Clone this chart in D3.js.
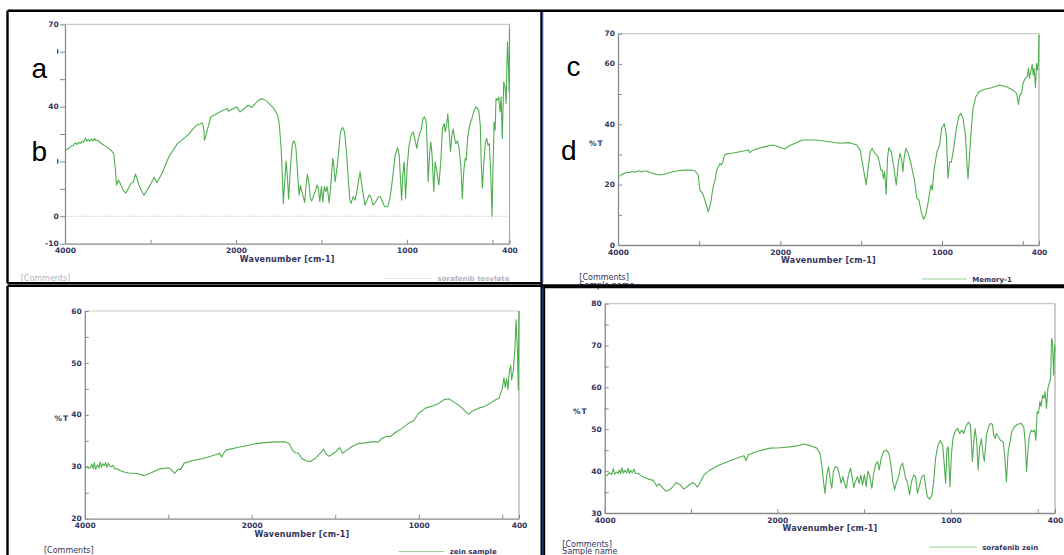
<!DOCTYPE html>
<html>
<head>
<meta charset="utf-8">
<script src="https://cdn.jsdelivr.net/npm/d3@7/dist/d3.min.js"></script>
<style>
  body { margin: 0; background: #fff; }
  svg { display: block; }
</style>
</head>
<body>
<svg id="chart" width="1064" height="555"></svg>
<script>
// ---- data (wavenumber in cm-1, transmittance in %T) ----

// a / b : sorafenib tosylate
const tosylateWn = [4000,3960,3930,3900,3880,3860,3840,3820,3800,3780,3760,3745,3730,3710,3690,3670,3655,3640,3620,3590,3550,3512,3460,3431,3410,3398,3375,3355,3320,3289,3260,3228,3200,3176,3150,3136,3100,3076,3050,3018,2985,2958,2926,2866,2785,2684,2563,2463,2390,2375,2370,2355,2342,2295,2222,2160,2129,2101,2090,
  1996,1977,1928,1908,1869,1846,1820,1791,1772,1756,1746,1736,1729,1723,1715,1707,1700,1692,1682,1670,1659,1649,1639,1631,1623,1615,1606,1598,1590,1582,1572,1565,1557,1545,1533,1526,1518,1510,1500,1492,1483,1475,1467,1455,1444,1434,1428,1420,1412,1401,1389,1377,1365,1352,1342,1334,1327,1315,1303,1293,1284,1274,1264,1252,1245,1233,1221,1209,1198,1182,1167,1155,1143,1131,1112,1098,1084,1069,1055,1045,1037,1031,1024,1016,1008,
  998,987,975,963,952,942,936,926,917,907,897,887,881,876,868,860,853,843,835,825,813,802,792,782,776,768,761,753,745,737,729,722,714,704,694,684,676,668,659,653,645,633,620,610,596,580,571,565,559,551,541,533,526,518,510,502,496,490,484,479,471,463,455,449,442,434,426,420,412,406,402,400];
const tosylateT = [24.1,24.6,25.5,25.9,26.8,26.2,27.0,26.5,27.4,27.0,28.6,27.4,28.0,27.3,28.2,27.5,28.4,27.6,27.8,26.9,26.0,25.3,24.0,22.9,17.0,11.4,13.2,12.0,9.5,8.4,10.0,12.0,12.5,15.4,13.0,11.4,9.0,7.7,9.0,10.7,12.5,14.2,12.2,15.6,21.7,26.5,29.6,33.2,34.0,31.0,27.7,29.0,30.7,36.2,37.5,38.5,38.9,39.3,38.3,
  39.9,38.0,40.5,39.7,42.3,42.9,41.9,40.2,38.7,36.8,33.2,24.7,15.0,4.7,12.6,20.1,15.0,6.2,17.4,26.5,27.5,24.7,15.0,7.8,11.3,9.0,7.1,5.1,11.4,15.3,11.4,6.5,5.6,7.8,9.6,11.4,10.2,5.3,10.8,5.3,10.8,9.0,10.8,4.9,12.6,21.1,18.7,12.6,16.2,22.3,30.8,32.4,30.8,22.3,12.6,5.9,4.7,7.1,5.9,9.0,12.6,16.2,11.4,6.5,4.1,5.9,7.8,6.8,4.1,5.3,7.1,7.1,5.3,3.5,3.5,7.1,13.8,22.3,25.0,22.3,12.6,5.9,15.0,19.9,6.5,
  18.7,26.0,29.7,30.8,27.7,24.7,27.3,30.2,31.4,35.6,36.2,34.4,24.7,12.6,22.3,27.1,22.3,9.0,19.9,16.2,11.4,19.9,32.0,33.8,30.8,33.2,37.4,30.8,23.5,29.6,31.9,28.5,26.5,27.5,24.7,17.4,6.5,16.2,21.1,20.5,28.5,33.2,35.6,38.0,39.9,38.7,33.2,18.7,10.2,18.7,27.1,28.4,25.9,26.5,16.2,0.0,18.7,34.4,31.4,42.9,42.3,43.5,38.0,43.5,28.4,48.9,47.1,41.1,63.5,55.0,45.3,68.4];

// c / d : Memory-1
const memoryWn = [4000,3950,3893,3850,3830,3800,3770,3740,3710,3680,3647,3610,3565,3483,3420,3360,3280,3196,3120,3052,3011,2991,2970,2950,2917,2888,2859,2827,2800,2785,2744,2730,2711,2691,2671,2600,2498,2420,2396,2375,2350,2293,2200,2129,2088,2047,
  1975,1944,1862,1779,1696,1634,1572,1527,1506,1490,1469,1457,1444,1432,1415,1395,1378,1370,1362,1355,1345,1337,1329,1314,1300,1283,1271,1260,1250,1242,1233,1223,1209,1190,1169,1155,1143,1128,1114,1101,1085,1068,1060,1048,1031,1015,1002,
  986,973,963,953,942,928,911,897,884,870,855,845,839,831,820,808,791,771,736,694,643,601,560,539,527,519,508,498,486,473,465,459,451,442,436,430,422,415,409,403,400];
const memoryT = [22.6,23.4,24.0,24.0,24.4,24.1,24.3,24.6,24.2,24.5,24.5,24.0,23.7,23.2,23.5,24.0,24.5,24.8,24.8,24.6,23.2,18.2,17.5,16.6,13.8,11.0,13.8,19.3,22.0,24.8,27.0,26.5,27.2,29.5,30.1,30.4,30.9,31.3,31.5,30.6,31.2,31.8,32.5,32.9,33.1,32.8,
  31.8,32.9,34.8,34.8,34.2,33.7,33.9,33.1,31.5,26.5,19.9,25.4,30.9,32.0,30.4,29.3,24.8,24.8,22.1,24.3,16.8,28.7,32.2,30.9,26.5,19.9,26.5,30.4,28.7,24.3,29.3,32.0,30.4,26.5,21.0,15.5,14.9,11.0,8.5,9.9,14.4,19.9,18.2,25.4,30.9,33.1,38.6,
  40.2,36.4,22.1,27.6,27.4,32.0,38.6,42.5,43.6,42.0,36.4,26.5,21.9,28.7,37.5,45.3,49.1,50.8,51.6,52.1,53.0,52.4,51.3,50.2,46.6,49.7,50.2,53.6,55.2,55.8,58.5,55.2,57.4,59.8,56.3,58.5,52.1,60.2,58.0,60.7,69.6];

// zein sample
const zeinWn = [4000,3970,3950,3933,3915,3900,3885,3870,3850,3830,3815,3800,3785,3767,3750,3735,3720,3700,3684,3665,3640,3610,3580,3530,3475,3371,3288,3240,3184,3100,2996,2954,2922,2900,2883,2851,2809,2705,2559,2434,2384,2359,2340,2310,2143,2080,
  2000,1940,1860,1800,1776,1756,1740,1720,1700,1670,1650,1620,1590,1570,1556,1536,1516,1496,1474,1456,1430,1400,1360,1320,1280,1240,1220,1190,1170,1140,1100,1060,1030,
  1000,960,920,880,850,820,790,750,720,700,680,640,600,570,540,520,510,500,490,482,474,466,458,450,444,434,424,418,410,404,400];
const zeinT = [29.9,30.0,29.7,29.8,30.5,29.6,30.8,29.5,30.4,29.8,30.9,29.9,30.6,30.2,30.8,29.9,30.7,30.1,30.0,30.3,29.6,29.6,29.3,29.0,28.8,28.7,28.3,28.6,29.0,29.6,29.8,29.3,28.7,29.2,29.5,29.5,30.7,31.2,31.7,32.3,32.6,31.9,32.5,33.2,33.8,34.0,
  34.3,34.6,34.8,34.8,34.5,33.2,32.7,32.6,31.6,31.1,31.0,31.6,32.6,33.4,32.5,32.0,32.5,32.9,33.7,32.6,33.2,33.9,34.5,34.6,34.8,34.8,35.5,35.9,35.8,36.6,37.4,38.4,38.9,
  40.3,41.3,41.7,42.2,42.9,43.1,42.5,41.6,40.6,40.1,40.7,41.3,41.7,42.3,42.9,43.2,44.1,45.1,47.2,45.3,47.0,44.9,48.3,49.6,46.7,48.6,53.1,58.3,53.1,44.8,60.0];

// sorafenib zein
const sorafZeinWn = [4000,3970,3950,3919,3900,3885,3860,3842,3830,3815,3800,3785,3770,3745,3730,3715,3700,3680,3660,3645,3629,3600,3571,3495,3437,3397,3380,3359,3320,3290,3243,3200,3174,3127,3081,3031,2980,2953,2927,2895,2849,2780,2664,2548,2432,2386,2363,2336,2238,2084,
  1985,1927,1869,1850,1811,1773,1754,1744,1734,1725,1715,1705,1696,1686,1677,1665,1652,1642,1632,1623,1615,1603,1590,1578,1569,1559,1550,1538,1528,1519,1509,1498,1488,1478,1469,1455,1446,1434,1422,1413,1401,1388,1372,1357,1345,1334,1324,1315,1301,1288,1278,1268,1261,1249,1238,1227,1213,1203,1192,1180,1167,1155,1145,1136,1122,1109,1099,1088,1074,1061,1047,1038,1030,1022,1015,1005,
  997,988,974,961,949,937,926,914,899,887,882,876,868,860,851,843,834,824,814,807,795,783,772,760,753,745,738,726,715,699,690,680,670,661,649,634,615,595,580,572,564,556,547,537,528,518,510,503,495,487,480,472,464,457,449,441,433,425,420,414,408,402,400];
const sorafZeinT = [38.8,39.0,39.6,39.2,40.6,39.3,39.8,39.5,40.3,39.4,40.8,39.5,40.2,39.6,40.7,39.4,40.2,39.6,40.5,39.5,39.5,39.3,38.8,38.1,37.8,36.4,36.9,36.8,35.8,35.2,35.6,36.5,37.3,36.8,35.7,36.5,37.3,36.9,36.2,37.3,39.1,40.3,41.5,42.5,43.4,43.7,42.5,43.9,44.7,45.5,
  45.6,45.8,46.2,46.5,46.1,45.5,44.3,41.5,37.5,34.7,39.1,41.1,38.3,35.9,39.9,41.1,40.8,39.1,37.1,38.7,37.5,35.9,39.1,40.7,38.7,36.0,37.5,38.7,37.1,39.1,36.7,39.2,36.3,40.0,39.1,35.9,39.1,41.5,42.3,40.3,43.1,44.7,45.0,44.3,41.5,37.5,35.5,37.1,38.7,41.3,41.9,39.9,38.3,37.1,34.3,37.5,39.1,38.7,34.7,36.7,38.7,39.1,36.3,33.9,33.3,34.3,37.5,43.1,46.2,47.3,46.2,41.5,37.1,45.4,45.8,36.3,
  43.9,47.8,49.6,50.2,49.0,49.8,49.0,50.6,51.7,51.0,47.0,42.3,47.0,50.2,47.0,40.3,45.8,47.8,43.9,42.3,48.6,50.6,51.4,51.2,48.6,47.8,49.0,48.2,47.4,47.0,43.9,37.5,44.7,46.6,49.4,50.6,51.2,51.4,50.6,47.0,39.9,44.7,48.6,49.8,49.4,49.8,47.4,54.2,53.8,56.6,55.4,58.2,57.4,59.0,55.0,59.8,61.0,62.2,71.7,70.9,63.0,70.1,68.5];

// axis values
const xBreaks = [4000, 2000, 400];          // JASCO style: 4000-2000 drawn at half scale
const xTickValues = [4000, 3000, 2000, 1500, 1000, 500, 400];
const xTickLabels = [4000, 2000, 1000, 400];

const yTicksA = [70, 60, 50, 40, 30, 20, 10, 0, -10];
const yLabelsA = [70, 60, 40, 20, 0, -10];
const yTicksC = [70, 60, 50, 40, 30, 20, 10, 0];
const yLabelsC = [70, 60, 40, 20, 0];
const yTicksE = [60, 55, 50, 45, 40, 35, 30, 25, 20];
const yLabelsE = [60, 50, 40, 30, 20];
const yTicksF = [80, 75, 70, 65, 60, 55, 50, 45, 40, 35, 30];
const yLabelsF = [80, 70, 60, 50, 40, 30];

// ---- layout ----
const labelFont = "DejaVu Sans, Verdana, sans-serif";
const labelColor = "#34345e";
const lineColor = "#4fae4f";

const panels = [
  { id: "a", wn: tosylateWn, t: tosylateT, left: 65, mid: 236, right: 509.5, top: 24.3, bottom: 243.7,
    yDomain: [-10, 70], yTicks: yTicksA, yLabels: yLabelsA, yOut: true, zero: true, ylab: null,
    comments: [20.7, 280.5], sample: null, legend: [384, 432, 278.5], legendName: "sorafenib tosylate", faded: true },
  { id: "c", wn: memoryWn, t: memoryT, left: 618, mid: 780.3, right: 1039, top: 33.7, bottom: 245,
    yDomain: [0, 70], yTicks: yTicksC, yLabels: yLabelsC, yOut: false, zero: false, ylab: [589, 145.5],
    comments: [579.3, 280.3], sample: [579.3, 288.3], legend: [921.7, 966.7, 279], legendName: "Memory-1", faded: false },
  { id: "e", wn: zeinWn, t: zeinT, left: 84.8, mid: 251.7, right: 519, top: 311, bottom: 518.7,
    yDomain: [20, 60], yTicks: yTicksE, yLabels: yLabelsE, yOut: false, zero: false, ylab: [54.6, 420.7],
    comments: [44, 553.4], sample: null, legend: [398.7, 444.2, 551.6], legendName: "zein sample", faded: false },
  { id: "f", wn: sorafZeinWn, t: sorafZeinT, left: 604.7, mid: 777.3, right: 1055, top: 303.7, bottom: 513,
    yDomain: [30, 80], yTicks: yTicksF, yLabels: yLabelsF, yOut: false, zero: false, ylab: [573, 413.7],
    comments: [562.3, 547.3], sample: [562.3, 554.2], legend: [929, 976.7, 547], legendName: "sorafenib zein", faded: false }
];

const svg = d3.select("#chart");
svg.append("rect").attr("width", 1064).attr("height", 555).attr("fill", "#fff");
const defs = svg.append("defs");

panels.forEach(p => {
  const g = svg.append("g").attr("class", "panel-" + p.id);
  const x = d3.scaleLinear().domain(xBreaks).range([p.left, p.mid, p.right]);
  const y = d3.scaleLinear().domain(p.yDomain).range([p.bottom, p.top]);
  const txtColor = p.faded ? "#b4b0c4" : labelColor;

  // plot frame
  g.append("line").attr("x1", p.left).attr("x2", p.right).attr("y1", p.top).attr("y2", p.top)
    .attr("stroke", "#c9c9c9").attr("stroke-width", 1.2);
  g.append("line").attr("x1", p.right).attr("x2", p.right).attr("y1", p.top).attr("y2", p.bottom)
    .attr("stroke", "#a9a9a9").attr("stroke-width", 1.2);

  if (p.zero) {
    g.append("line").attr("x1", p.left).attr("x2", p.right).attr("y1", y(0)).attr("y2", y(0))
      .attr("stroke", "#b8b8b8").attr("stroke-width", 0.8).attr("stroke-dasharray", "1.5,1.5");
  }

  // x axis
  const xAxis = d3.axisBottom(x).tickValues(xTickValues)
    .tickSizeInner(-4).tickSizeOuter(0).tickPadding(4.4)
    .tickFormat(d => xTickLabels.includes(d) ? d : "");
  const gx = g.append("g").attr("transform", `translate(0,${p.bottom})`).call(xAxis);
  gx.attr("font-family", null).attr("font-size", null);
  gx.select(".domain").attr("stroke", "#8a8a8a").attr("stroke-width", 1.3);
  gx.selectAll(".tick line").attr("stroke", "#8a8a8a");
  gx.selectAll(".tick text").attr("font-family", labelFont).attr("font-size", 7.5)
    .attr("font-weight", "bold").attr("fill", labelColor);

  // y axis
  const yAxis = d3.axisLeft(y).tickValues(p.yTicks)
    .tickSizeInner(p.yOut ? 5 : -4).tickSizeOuter(0).tickPadding(p.yOut ? 1.4 : 3)
    .tickFormat(d => p.yLabels.includes(d) ? d : "");
  const gy = g.append("g").attr("transform", `translate(${p.left},0)`).call(yAxis);
  gy.attr("font-family", null).attr("font-size", null);
  gy.select(".domain").attr("stroke", "#8a8a8a").attr("stroke-width", 1.3);
  gy.selectAll(".tick line").attr("stroke", "#8a8a8a");
  gy.selectAll(".tick text").attr("font-family", labelFont).attr("font-size", 7.5)
    .attr("font-weight", "bold").attr("fill", labelColor).attr("dy", "0.28em");

  // axis titles
  g.append("text").attr("x", (p.left + p.right) / 2).attr("y", p.bottom + 17.8)
    .attr("text-anchor", "middle").attr("font-family", labelFont).attr("font-size", 8)
    .attr("font-weight", "bold").attr("fill", labelColor).attr("letter-spacing", 0.2)
    .text("Wavenumber [cm-1]");
  if (p.ylab) {
    g.append("text").attr("x", p.ylab[0]).attr("y", p.ylab[1])
      .attr("font-family", labelFont).attr("font-size", 7.5).attr("font-weight", "bold")
      .attr("fill", labelColor).attr("letter-spacing", 1).text("%T");
  }

  // spectrum
  defs.append("clipPath").attr("id", "clip-" + p.id).append("rect")
    .attr("x", p.left).attr("y", p.top - 1).attr("width", p.right - p.left + 1).attr("height", p.bottom - p.top + 1);
  const pts = p.wn.map((w, i) => [w, p.t[i]]);
  g.append("path").datum(pts)
    .attr("clip-path", `url(#clip-${p.id})`)
    .attr("d", d3.line().x(d => x(d[0])).y(d => y(d[1])))
    .attr("fill", "none").attr("stroke", lineColor).attr("stroke-width", 1.1)
    .attr("stroke-linejoin", "round");

  // comments / legend
  g.append("text").attr("x", p.comments[0]).attr("y", p.comments[1])
    .attr("font-family", labelFont).attr("font-size", 8).attr("fill", txtColor).text("[Comments]");
  if (p.sample) {
    g.append("text").attr("x", p.sample[0]).attr("y", p.sample[1])
      .attr("font-family", labelFont).attr("font-size", 8).attr("fill", txtColor).text("Sample name");
  }
  g.append("line").attr("x1", p.legend[0]).attr("x2", p.legend[1]).attr("y1", p.legend[2]).attr("y2", p.legend[2])
    .attr("stroke", p.faded ? "#e6e6e6" : "#8fcf8f").attr("stroke-width", 1);
  g.append("text").attr("x", p.legend[1] + 5.5).attr("y", p.legend[2] + 2.8)
    .attr("font-family", labelFont).attr("font-size", 7).attr("font-weight", "bold")
    .attr("fill", txtColor).text(p.legendName);
});

// panel letters pasted over the first chart (white boxes hide the tick labels under them)
const letters = [
  { s: "a", x: 31.5, y: 78, box: [10, 40, 47, 46] },
  { s: "b", x: 31.5, y: 160.5, box: [10, 122, 47, 48] },
  { s: "c", x: 566.5, y: 76, box: null },
  { s: "d", x: 561, y: 159.5, box: null }
];
letters.forEach(l => {
  if (l.box) {
    svg.append("rect").attr("x", l.box[0]).attr("y", l.box[1])
      .attr("width", l.box[2]).attr("height", l.box[3]).attr("fill", "#fff");
  }
  svg.append("text").attr("x", l.x).attr("y", l.y)
    .attr("font-family", "Liberation Sans, Arial, sans-serif").attr("font-size", 28)
    .attr("fill", "#000").text(l.s);
});

// outer frames around the four screenshots
const frames = [
  [[7.5, 10.7], [1064, 10.7]],
  [[7.5, 10.7], [7.5, 283.3]],
  [[7.5, 283.3], [541.5, 283.3]],
  [[541.5, 10.7], [541.5, 285]],
  [[541.5, 285.5], [1064, 285.5]],
  [[7.5, 285.9], [541.5, 285.9]],
  [[7.5, 285.9], [7.5, 555]],
  [[541.7, 285.9], [541.7, 555]],
  [[544, 287], [1064, 287]],
  [[544, 287], [544, 555]]
];
svg.append("g").selectAll("path").data(frames).join("path")
  .attr("d", d => d3.line()(d)).attr("stroke", "#000").attr("stroke-width", 2.4).attr("fill", "none");
svg.append("path").attr("d", "M542.9,12V283 M542.9,287.5V555")
  .attr("stroke", "#3a64c8").attr("stroke-width", 0.8).attr("fill", "none");
</script>
</body>
</html>
